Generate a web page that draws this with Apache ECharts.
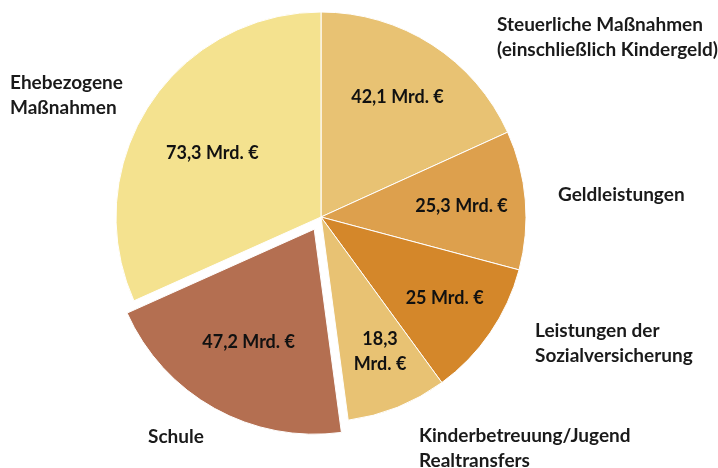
<!DOCTYPE html>
<html>
<head>
<meta charset="utf-8">
<script src="https://cdn.jsdelivr.net/npm/echarts@6/dist/echarts.min.js"></script>
<style>
  html, body { margin: 0; padding: 0; background: #fff; }
  #chart { width: 718px; height: 468px; }
</style>
</head>
<body>
<div id="chart"></div>
<script>
// Familienbezogene Leistungen, in Mrd. € (clockwise from 12 o'clock)
const categories = [
  'Steuerliche Maßnahmen\n(einschließlich Kindergeld)',
  'Geldleistungen',
  'Leistungen der\nSozialversicherung',
  'Kinderbetreuung/Jugend\nRealtransfers',
  'Schule',
  'Ehebezogene\nMaßnahmen'
];
const values = [42.1, 25.3, 25, 18.3, 47.2, 73.3];
const valueTexts = ['42,1 Mrd. €', '25,3 Mrd. €', '25 Mrd. €', '18,3\nMrd. €', '47,2 Mrd. €', '73,3 Mrd. €'];
const colors = ['#E8C273', '#DDA04D', '#D4872A', '#E8C273', '#B46F51', '#F4E28F'];
const explodedIndex = 4;

// Placement of the category names around the pie (top-left of each text block)
const namePos = [[497, 12], [558, 182], [535, 318], [419, 423], [148, 424], [10, 70]];
// Small shifts for the value labels
const valueShift = [[-2, 2], [-4, 1], [4, -1], [5, 0], [5, -14], [13, 15]];

const FONT = 'Lato, "Open Sans", sans-serif';
const CENTER = [321, 217];
const R = 205;

const clear = 'rgba(0,0,0,0)';
const baseSeries = {
  type: 'pie',
  center: CENTER,
  startAngle: 90,
  clockwise: true,
  avoidLabelOverlap: false,
  labelLine: { show: false },
  emphasis: { disabled: true }
};

const chart = echarts.init(document.getElementById('chart'), null, { renderer: 'canvas' });
chart.setOption({
  animation: false,
  backgroundColor: '#ffffff',
  series: [
    Object.assign({}, baseSeries, {
      // the visible pie, with the Schule slice pulled out
      radius: [0, R],
      selectedMode: 'single',
      selectedOffset: 14,
      itemStyle: { borderColor: '#ffffff', borderWidth: 1 },
      label: { show: false },
      data: values.map((v, i) => ({
        value: v,
        name: categories[i],
        selected: i === explodedIndex,
        itemStyle: { color: colors[i] }
      }))
    }),
    Object.assign({}, baseSeries, {
      // category names placed around the pie
      radius: [0, R],
      silent: true,
      itemStyle: { color: clear, borderWidth: 0 },
      label: {
        show: true,
        position: 'outside',
        formatter: p => p.name,
        color: '#1a1a1a',
        fontFamily: FONT,
        fontWeight: 'bold',
        fontSize: 19,
        lineHeight: 25,
        align: 'left'
      },
      labelLayout: p => ({
        x: namePos[p.dataIndex][0],
        y: namePos[p.dataIndex][1],
        align: 'left',
        verticalAlign: 'top'
      }),
      data: values.map((v, i) => ({
        value: v,
        name: categories[i],
        itemStyle: { color: clear }
      }))
    }),
    Object.assign({}, baseSeries, {
      // value labels, carried on a wider transparent ring
      radius: [0, 284],
      silent: true,
      selectedMode: 'single',
      selectedOffset: 14,
      itemStyle: { color: clear, borderWidth: 0 },
      label: {
        show: true,
        position: 'inside',
        formatter: p => valueTexts[p.dataIndex],
        color: '#111111',
        fontFamily: FONT,
        fontWeight: 'bold',
        fontSize: 18,
        lineHeight: 25
      },
      labelLayout: p => ({
        dx: valueShift[p.dataIndex][0],
        dy: valueShift[p.dataIndex][1]
      }),
      data: values.map((v, i) => ({
        value: v,
        name: categories[i],
        selected: i === explodedIndex,
        itemStyle: { color: clear }
      }))
    })
  ]
});
</script>
</body>
</html>
